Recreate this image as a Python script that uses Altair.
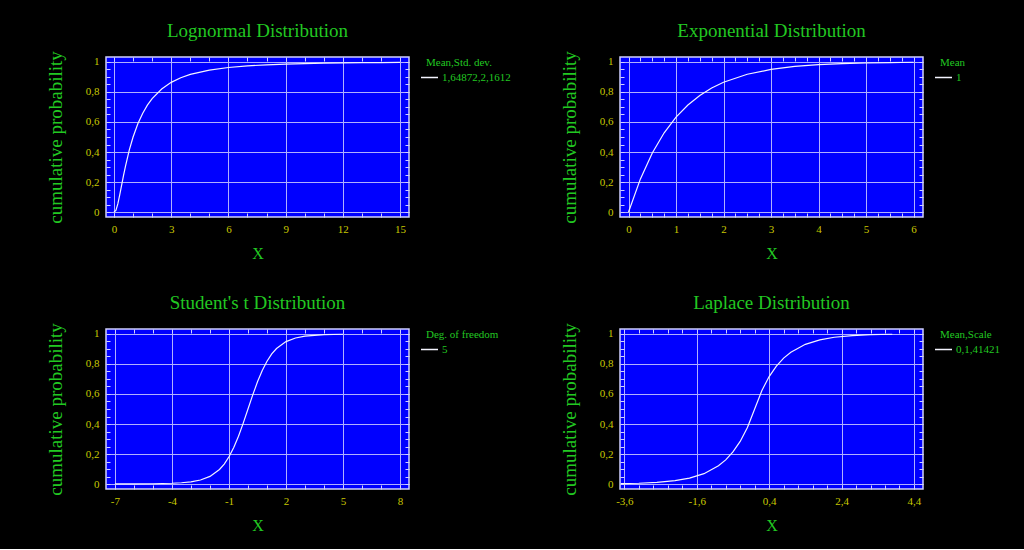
import altair as alt
import pandas as pd

# ---------------- data ----------------
logn_x = [0, 0.1, 0.2, 0.3, 0.4, 0.5, 0.6, 0.8, 1.0, 1.25, 1.5, 1.75, 2.0, 2.5, 3.0,
          3.5, 4.0, 5.0, 6.0, 7.0, 8.0, 9.0, 10.0, 11.0, 12.0, 13.0, 14.0, 15.0]
logn_p = [0, 0.011, 0.054, 0.114, 0.18, 0.244, 0.305, 0.412, 0.5, 0.588, 0.657, 0.712,
          0.756, 0.82, 0.864, 0.895, 0.917, 0.946, 0.963, 0.974, 0.981, 0.986, 0.989,
          0.992, 0.9935, 0.995, 0.996, 0.9966]

expo_x = [0, 0.25, 0.5, 0.75, 1, 1.25, 1.5, 1.75, 2, 2.5, 3, 3.5, 4, 4.5, 5, 5.5, 6]
expo_p = [0, 0.221, 0.393, 0.528, 0.632, 0.713, 0.777, 0.826, 0.865, 0.918, 0.95,
          0.97, 0.982, 0.989, 0.993, 0.996, 0.998]

stud_x = [-7, -6, -5, -4, -3.5, -3, -2.5, -2, -1.5, -1.25, -1, -0.75, -0.5, -0.25, 0,
          0.25, 0.5, 0.75, 1, 1.25, 1.5, 2, 2.5, 3, 3.5, 4, 5]
stud_p = [0.0005, 0.0009, 0.0021, 0.0052, 0.0087, 0.015, 0.027, 0.051, 0.097, 0.133,
          0.182, 0.243, 0.319, 0.406, 0.5, 0.594, 0.681, 0.757, 0.818, 0.867, 0.903,
          0.949, 0.973, 0.985, 0.991, 0.995, 0.998]

lapl_x = [-3.7, -3.2, -2.7, -2.2, -1.8, -1.4, -1.0, -0.8, -0.6, -0.4, -0.2, 0, 0.2, 0.4,
          0.6, 0.8, 1.0, 1.4, 1.8, 2.2, 2.7, 3.2, 3.8]
lapl_p = [0.0027, 0.0054, 0.011, 0.0223, 0.0392, 0.069, 0.1216, 0.161, 0.214, 0.284,
          0.377, 0.5, 0.623, 0.716, 0.786, 0.839, 0.878, 0.931, 0.961, 0.978, 0.989,
          0.995, 0.998]

titles = ["Lognormal Distribution", "Exponential Distribution",
          "Student's t Distribution", "Laplace Distribution"]
legend_titles = ["Mean,Std. dev.", "Mean", "Deg. of freedom", "Mean,Scale"]
legend_labels = ["1,64872,2,1612", "1", "5", "0,1,41421"]

logn_ticks = [0, 3, 6, 9, 12, 15]
expo_ticks = [0, 1, 2, 3, 4, 5, 6]
stud_ticks = [-7, -4, -1, 2, 5, 8]
lapl_ticks = [-3.6, -1.6, 0.4, 2.4, 4.4]
y_ticks = [0, 0.2, 0.4, 0.6, 0.8, 1]

logn_minor = list(range(0, 16))
expo_minor = [i * 0.25 for i in range(25)]
stud_minor = list(range(-7, 9))
lapl_minor = [-3.6 + i * 0.4 for i in range(21)]
y_minor = [i * 0.05 for i in range(21)]

logn_dom = [-0.42, 15.47]
expo_dom = [-0.18, 6.2]
stud_dom = [-7.47, 8.47]
lapl_dom = [-3.72, 4.65]
y_dom = [-0.033, 1.033]

# ---------------- style ----------------
GREEN = "#22c822"
YELLOW = "#c8c800"
BLUE = "#0000ff"
GRID = "#b0b0ff"
FRAME = "#d0d0ff"
SERIF = "Liberation Serif"
FMT = "replace(replace(format(datum.value, '~g'), '.', ','), '\u2212', '-')"


def panel(xs, ps, title, xdom, xmajor, xminor, leg_title, leg_label):
    df = pd.DataFrame({"x": xs, "p": ps, "param": [leg_label] * len(xs)})
    base = alt.Chart(df)
    xsc = alt.Scale(domain=xdom, nice=False, zero=False)
    ysc = alt.Scale(domain=y_dom, nice=False, zero=False)
    curve = base.mark_line(strokeWidth=1.2, clip=True).encode(
        x=alt.X("x:Q", scale=xsc,
                axis=alt.Axis(values=xmajor, title="X", labelExpr=FMT, grid=True,
                              ticks=False, domain=False, labelPadding=6,
                              titleFontSize=16, titlePadding=11)),
        y=alt.Y("p:Q", scale=ysc,
                axis=alt.Axis(values=y_ticks, title="cumulative probability",
                              labelExpr=FMT, grid=True, ticks=False, domain=False,
                              labelPadding=7, titlePadding=20)),
        color=alt.Color("param:N", scale=alt.Scale(range=["#f4f4ff"]),
                        legend=alt.Legend(title=leg_title)),
    )
    inner_a = base.mark_line(opacity=0).encode(
        x=alt.X("x:Q", scale=xsc,
                axis=alt.Axis(orient="top", offset=-4, values=xminor, labels=False,
                              grid=False, domain=False, ticks=True, tickSize=4,
                              tickColor=FRAME, title=None)),
        y=alt.Y("p:Q", scale=ysc,
                axis=alt.Axis(orient="right", offset=-4, values=y_minor, labels=False,
                              grid=False, domain=False, ticks=True, tickSize=4,
                              tickColor=FRAME, title=None)),
    )
    inner_b = base.mark_line(opacity=0).encode(
        x=alt.X("x:Q", scale=xsc,
                axis=alt.Axis(orient="bottom", offset=-4, values=xminor, labels=False,
                              grid=False, domain=False, ticks=True, tickSize=4,
                              tickColor=FRAME, title=None)),
        y=alt.Y("p:Q", scale=ysc,
                axis=alt.Axis(orient="left", offset=-4, values=y_minor, labels=False,
                              grid=False, domain=False, ticks=True, tickSize=4,
                              tickColor=FRAME, title=None)),
    )
    return alt.layer(curve, inner_a, inner_b, title=alt.Title(title)).resolve_axis(
        x="independent", y="independent").properties(width=303, height=160)


p1 = panel(logn_x, logn_p, titles[0], logn_dom, logn_ticks, logn_minor,
           legend_titles[0], legend_labels[0])
p2 = panel(expo_x, expo_p, titles[1], expo_dom, expo_ticks, expo_minor,
           legend_titles[1], legend_labels[1])
p3 = panel(stud_x, stud_p, titles[2], stud_dom, stud_ticks, stud_minor,
           legend_titles[2], legend_labels[2])
p4 = panel(lapl_x, lapl_p, titles[3], lapl_dom, lapl_ticks, lapl_minor,
           legend_titles[3], legend_labels[3])

chart = alt.concat(p1, p2, p3, p4, columns=2,
                   spacing={"row": 112, "column": 211}, bounds="flush").resolve_scale(
    color="independent"
).resolve_legend(
    color="independent"
).properties(
    background="black",
    padding={"left": 45, "top": 20, "right": 23, "bottom": 15},
).configure_view(
    fill=BLUE, stroke=FRAME, strokeWidth=1.5
).configure_axis(
    labelFont=SERIF, labelFontSize=11, labelColor=YELLOW,
    titleFont=SERIF, titleFontSize=19, titleColor=GREEN, titleFontWeight="normal",
    gridColor=GRID, gridOpacity=1, gridWidth=1,
).configure_title(
    font=SERIF, fontSize=19, color=GREEN, fontWeight="normal", offset=10,
).configure_legend(
    orient="right", offset=16, padding=0,
    titleFont=SERIF, titleFontSize=11, titleColor=GREEN, titleFontWeight="normal",
    titlePadding=0,
    labelFont=SERIF, labelFontSize=11, labelColor=GREEN,
    symbolType="stroke", symbolSize=289, symbolStrokeWidth=1.5,
    symbolOffset=-6, labelOffset=3,
)

chart.save("out.html", embed_options={"renderer": "svg", "actions": False})
